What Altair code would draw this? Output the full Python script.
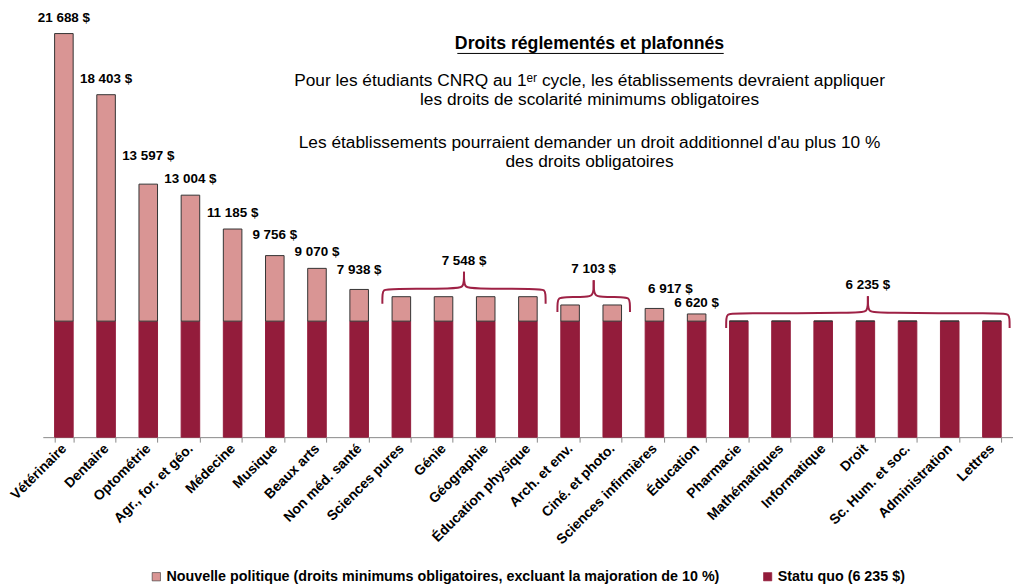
import altair as alt
import pandas as pd

categories = ["Vétérinaire", "Dentaire", "Optométrie", "Agr., for. et géo.", "Médecine",
              "Musique", "Beaux arts", "Non méd. santé", "Sciences pures", "Génie",
              "Géographie", "Éducation physique", "Arch. et env.", "Ciné. et photo.",
              "Sciences infirmières", "Éducation", "Pharmacie", "Mathématiques",
              "Informatique", "Droit", "Sc. Hum. et soc.", "Administration", "Lettres"]
totals = [21688, 18403, 13597, 13004, 11185, 9756, 9070, 7938, 7548, 7548, 7548, 7548,
          7103, 7103, 6917, 6620, 6235, 6235, 6235, 6235, 6235, 6235, 6235]
statu_quo = 6235
series_names = ["Nouvelle politique (droits minimums obligatoires, excluant la majoration de 10 %)",
                "Statu quo (6 235 $)"]
group_first = [8, 12, 16]
group_last = [11, 13, 22]
group_values = [7548, 7103, 6235]

title_text = "Droits réglementés et plafonnés"
note_lines = ["Pour les étudiants CNRQ au 1ᵉʳ cycle, les établissements devraient appliquer",
              "les droits de scolarité minimums obligatoires",
              "Les établissements pourraient demander un droit additionnel d'au plus 10 %",
              "des droits obligatoires"]

FONT = "Liberation Sans"
PINK = "#D99594"
DARK = "#931C3B"
BRACE = "#9E2145"
W, H = 976, 430
YMAX = 22970
PX = YMAX / H  # dollars per pixel
N = len(categories)
STEP = W / N
# label placement nudges (pixels): gap above bar, horizontal shift
LABEL_GAP = {"Optométrie": 21, "Musique": 14, "Non méd. santé": 13,
             "Sciences infirmières": 13, "Éducation": 4}
LABEL_DX = {"Sciences infirmières": 16}


def fmt(v):
    return f"{v:,}".replace(",", " ") + " $"


rows = []
for c, t in zip(categories, totals):
    rows.append({"cat": c, "series": series_names[1], "val": statu_quo, "ord": 0})
    rows.append({"cat": c, "series": series_names[0], "val": t - statu_quo, "ord": 1})
bars_df = pd.DataFrame(rows)

grouped = set()
for a, b in zip(group_first, group_last):
    grouped.update(range(a, b + 1))
lab_rows = []
for i, (c, t) in enumerate(zip(categories, totals)):
    if i in grouped:
        continue
    lab_rows.append({"lx": i + LABEL_DX.get(c, 0) / STEP,
                     "ly": t + LABEL_GAP.get(c, 9) * PX, "label": fmt(t)})
lab_df = pd.DataFrame(lab_rows)

pts = []
glabels = []
for g, (a, b, v) in enumerate(zip(group_first, group_last, group_values)):
    x0 = a - 0.45 if g == 0 else a - 0.3
    x1 = min(b + 0.42, N - 0.5)
    xc = (x0 + x1) / 2
    yl = v + 8 * PX
    half = [(0, -15), (0, -5), (0.03, -1), (0.14, 0)]
    for side, sgn, xs in (("L", 1, x0), ("R", -1, x1)):
        shape = [(xs + sgn * dx, yl + dy * PX) for dx, dy in half]
        shape += [(xc - sgn * 0.14, yl), (xc - sgn * 0.03, yl + 2 * PX),
                  (xc, yl + 7 * PX), (xc, yl + 17 * PX)]
        for o, (px_, py_) in enumerate(shape):
            pts.append({"half": f"{g}{side}", "o": o, "bx": px_, "by": py_})
    glabels.append({"lx": xc, "ly": yl + 21 * PX, "label": fmt(v)})
brace_df = pd.DataFrame(pts)
all_labels = pd.concat([lab_df, pd.DataFrame(glabels)], ignore_index=True)

xband = alt.Scale(domain=categories, paddingInner=0.56, paddingOuter=0.28)
yscale = alt.Scale(domain=[0, YMAX], nice=False, zero=True)
xq = alt.Scale(domain=[-0.5, N - 0.5], nice=False, zero=False)

bars = alt.Chart(bars_df).mark_bar(strokeWidth=1).encode(
    x=alt.X("cat:N", sort=categories, scale=xband,
            axis=alt.Axis(title=None, labelAngle=-45, labelAlign="right", labelBaseline="middle",
                          tickBand="extent", tickSize=5, tickColor="#888", domainColor="#888",
                          labelFont=FONT, labelFontSize=14, labelFontWeight="bold",
                          labelColor="#000", labelPadding=4, grid=False)),
    y=alt.Y("val:Q", stack="zero", scale=yscale, axis=None),
    color=alt.Color("series:N", scale=alt.Scale(domain=series_names, range=[PINK, DARK]),
                    legend=alt.Legend(title=None, orient="none", legendX=107, legendY=563,
                                      direction="horizontal", symbolType="square", symbolSize=70,
                                      labelFont=FONT, labelFontSize=14.4, labelFontWeight="bold",
                                      labelColor="#000", labelLimit=1000, columnPadding=41,
                                      labelOffset=3, symbolStrokeColor="#555",
                                      symbolStrokeWidth=0.6)),
    stroke=alt.Stroke("series:N", scale=alt.Scale(domain=series_names, range=["#333", DARK]),
                      legend=None),
    order=alt.Order("ord:Q"),
)

braces = alt.Chart(brace_df).mark_line(color=BRACE, strokeWidth=2, interpolate="basis").encode(
    x=alt.X("bx:Q", scale=xq, axis=None),
    y=alt.Y("by:Q", scale=yscale, axis=None),
    detail="half:N",
    order="o:Q",
)

labels = alt.Chart(all_labels).mark_text(font=FONT, fontSize=13.5, fontWeight="bold",
                                         color="#000", baseline="bottom").encode(
    x=alt.X("lx:Q", scale=xq, axis=None),
    y=alt.Y("ly:Q", scale=yscale, axis=None),
    text="label:N",
)

one = pd.DataFrame({"k": [0]})


def line_text(txt, yy, bold=False, size=17.4):
    return alt.Chart(one).mark_text(font=FONT, fontSize=size, color="#000", baseline="middle",
                                    align="center",
                                    fontWeight="bold" if bold else "normal").encode(
        x=alt.value(550), y=alt.value(yy), text=alt.value(txt))


title_mark = line_text(title_text, 35, bold=True, size=17.8)
underline = alt.Chart(one).mark_rule(color="#000", strokeWidth=1).encode(
    x=alt.value(417), x2=alt.value(685), y=alt.value(44))
notes = [line_text(note_lines[0], 72), line_text(note_lines[1], 91),
         line_text(note_lines[2], 134), line_text(note_lines[3], 153)]

chart = alt.layer(bars, braces, labels, title_mark, underline, *notes).resolve_scale(
    x="independent").properties(
    width=W, height=H,
    autosize=alt.AutoSizeParams(type="none"),
    padding={"left": 35, "top": 0, "right": 0, "bottom": 146},
).configure_view(stroke=None)

chart.save("out.html", embed_options={"renderer": "svg", "actions": False})
